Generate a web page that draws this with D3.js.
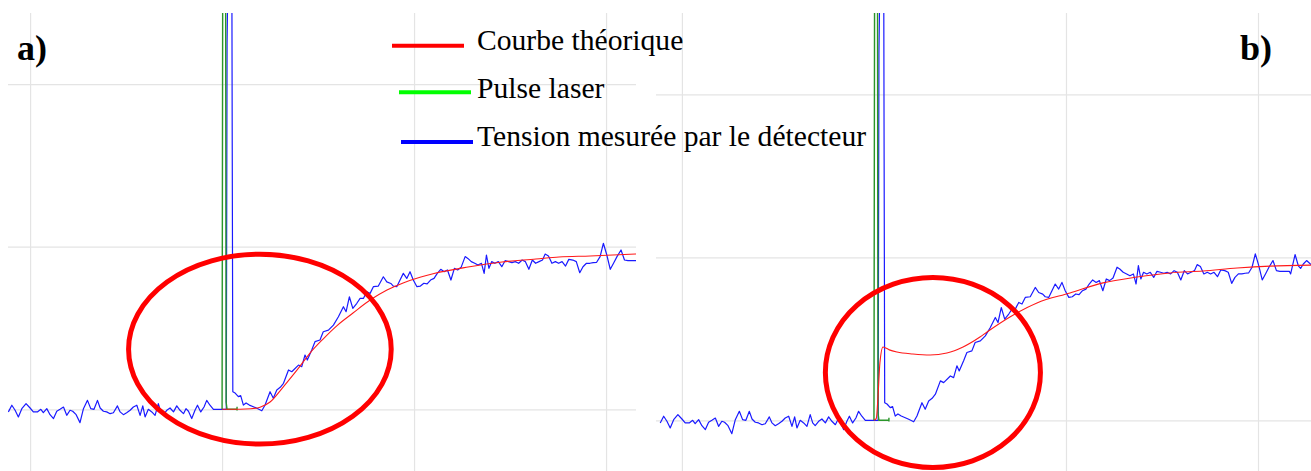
<!DOCTYPE html>
<html>
<head>
<meta charset="utf-8">
<script src="https://cdn.jsdelivr.net/npm/d3@7"></script>
<style>
  html, body { margin: 0; padding: 0; background: #ffffff; }
  svg { display: block; }
  .serif { font-family: "Liberation Serif", "Times New Roman", "DejaVu Serif", serif; }
</style>
</head>
<body>
<svg id="chart" width="1311" height="471"></svg>
<script>
// Time is in grid divisions (laser fired at t = 0), signal in grid divisions.
const timeTicks = [-1, 0, 1, 2];
const signalTicks = [0, 1, 2];

// Voltage measured by the detector: [time, signal]
const detectorSignal = [
  [-1.113,-0.016],[-1.095,0.025],[-1.078,-0.006],[-1.061,-0.047],[-1.043,0.004],[-1.021,0.035],
  [-1.000,0.008],[-0.983,-0.016],[-0.962,-0.016],[-0.944,0],[-0.931,-0.021],[-0.913,0.004],
  [-0.896,-0.033],[-0.878,-0.057],[-0.861,-0.012],[-0.844,0],[-0.826,0.014],[-0.809,-0.037],
  [-0.792,-0.006],[-0.778,-0.012],[-0.760,-0.033],[-0.740,-0.082],[-0.722,0.004],[-0.701,0.055],
  [-0.684,0.004],[-0.667,0],[-0.649,0.055],[-0.635,0.008],[-0.618,-0.012],[-0.601,-0.016],
  [-0.583,-0.027],[-0.566,-0.021],[-0.545,0.021],[-0.531,-0.016],[-0.514,-0.033],[-0.497,-0.021],
  [-0.479,-0.006],[-0.462,0.014],[-0.444,0.025],[-0.427,-0.037],[-0.413,0.021],[-0.401,-0.047],
  [-0.384,0],[-0.366,-0.016],[-0.349,-0.037],[-0.332,0.035],[-0.319,-0.016],[-0.306,-0.033],
  [-0.288,-0.006],[-0.271,0.008],[-0.253,-0.016],[-0.236,0.021],[-0.219,-0.006],[-0.201,-0.027],
  [-0.188,0.004],[-0.175,-0.012],[-0.158,-0.057],[-0.141,-0.006],[-0.128,0.025],[-0.111,-0.016],
  [-0.094,0.014],[-0.080,0.055],[-0.063,0.025],[-0.045,0],[0.022,0],
  [0.026,2.25],[0.036,3.2],[0.050,3.2],[0.053,1.6],[0.056,0.108],
  [0.068,0.100],[0.085,0.078],[0.097,0.084],[0.111,0.026],[0.125,0.039],[0.142,0.026],
  [0.163,0.016],[0.181,0.006],[0.207,-0.009],[0.224,0.026],[0.250,0.108],[0.267,0.068],
  [0.285,0.119],[0.303,0.135],[0.320,0.160],[0.346,0.242],[0.363,0.231],[0.398,0.272],[0.415,0.262],
  [0.432,0.334],[0.444,0.303],[0.467,0.365],[0.484,0.416],[0.510,0.426],[0.527,0.477],
  [0.554,0.487],[0.580,0.518],[0.606,0.569],[0.632,0.631],[0.646,0.600],[0.663,0.692],
  [0.681,0.621],[0.702,0.652],[0.719,0.682],[0.736,0.682],[0.754,0.723],[0.771,0.713],
  [0.788,0.754],[0.814,0.758],[0.840,0.815],[0.858,0.784],[0.879,0.774],[0.892,0.758],
  [0.910,0.754],[0.927,0.795],[0.944,0.836],[0.962,0.805],[0.979,0.846],[0.996,0.795],
  [1.015,0.754],[1.033,0.758],[1.051,0.775],[1.068,0.771],[1.086,0.795],[1.104,0.805],
  [1.121,0.836],[1.139,0.861],[1.157,0.846],[1.174,0.857],[1.192,0.795],[1.210,0.867],
  [1.227,0.857],[1.245,0.873],[1.266,0.939],[1.280,0.928],[1.298,0.908],[1.316,0.898],
  [1.333,0.887],[1.351,0.898],[1.365,0.836],[1.377,0.949],[1.390,0.867],[1.404,0.908],
  [1.421,0.898],[1.439,0.908],[1.457,0.877],[1.474,0.914],[1.492,0.908],[1.510,0.902],
  [1.527,0.908],[1.545,0.898],[1.563,0.918],[1.580,0.908],[1.598,0.861],[1.616,0.918],
  [1.633,0.898],[1.651,0.908],[1.669,0.918],[1.683,0.955],[1.700,0.943],[1.718,0.898],
  [1.736,0.908],[1.753,0.898],[1.771,0.908],[1.789,0.881],[1.806,0.922],[1.827,0.918],
  [1.845,0.908],[1.863,0.840],[1.880,0.877],[1.898,0.898],[1.916,0.898],[1.933,0.902],
  [1.951,0.904],[1.969,0.939],[1.986,1.021],[2.004,0.949],[2.022,0.861],[2.039,0.898],
  [2.057,0.939],[2.078,0.980],[2.096,0.918],[2.114,0.914],[2.145,0.914],[2.163,0.914],
  [2.170,0.898],[2.193,1.017],[2.210,0.948],[2.222,0.932],[2.236,0.959],[2.253,0.980],[2.276,0.955]
];

// Laser pulse: [time, signal]
const laserPulse = [
  [0,0],[0.004,3.2],[0.018,3.2],[0.021,0.045],[0.026,0],[0.078,0],[0.078,0.015],[0.078,-0.008]
];

// Theoretical response, case a): [time, signal]
const theoryA = [
  [0,0],[0.094,0],[0.150,0.003],[0.198,0.013],[0.250,0.045],[0.318,0.137],[0.391,0.242],
  [0.458,0.346],[0.526,0.432],[0.599,0.515],[0.682,0.592],[0.771,0.672],[0.859,0.734],
  [0.943,0.777],[1.031,0.812],[1.104,0.835],[1.281,0.875],[1.458,0.906],[1.635,0.924],
  [1.755,0.937],[1.917,0.943],[2.156,0.955]
];

// Theoretical response, case b): [time, signal]
const theoryB = [
  [0,0],[0.012,0.01],[0.021,0.143],[0.031,0.352],[0.047,0.45],[0.080,0.432],[0.120,0.419],
  [0.203,0.407],[0.292,0.401],[0.380,0.413],[0.464,0.45],[0.552,0.511],[0.589,0.542],
  [0.708,0.634],[0.849,0.72],[1.021,0.781],[1.193,0.843],[1.370,0.879],[1.542,0.904],
  [1.714,0.916],[1.891,0.934],[2.063,0.946],[2.276,0.952]
];

// Highlighted zones (centre and half-axes in data units)
const zoneA = [0.197, 0.370, 0.684, 0.584];
const zoneB = [0.307, 0.293, 0.560, 0.583];

const panelLabels = ["a)", "b)"];
const legendLabels = ["Courbe théorique", "Pulse laser", "Tension mesurée par le détecteur"];
const legendColors = ["#ff0000", "#00ff00", "#0000ff"];

const svg = d3.select("#chart");
const H = 471, TOP = 13;

const panels = [
  { label: panelLabels[0], left: 8, right: 636, domain: [-1.115, 2.156], y0: 409.3, y2: 84.1,
    theory: theoryA, zone: zoneA, labelX: 17 },
  { label: panelLabels[1], left: 656, right: 1311, domain: [-1.135, 2.276], y0: 420.3, y2: 94.3,
    theory: theoryB, zone: zoneB, labelX: 1240 }
];

panels.forEach((p, i) => {
  const x = d3.scaleLinear().domain(p.domain).range([p.left, p.right]);
  const y = d3.scaleLinear().domain([0, 2]).range([p.y0, p.y2]);
  const g = svg.append("g");

  const clipId = "clip" + i;
  svg.append("clipPath").attr("id", clipId)
    .append("rect").attr("x", p.left).attr("y", TOP)
    .attr("width", p.right - p.left).attr("height", H - TOP);

  // vertical grid
  const gx = g.append("g").attr("transform", `translate(0,${H})`)
    .call(d3.axisBottom(x).tickValues(timeTicks).tickSize(-(H - TOP)).tickFormat(""));
  // horizontal grid
  const gy = g.append("g").attr("transform", `translate(${p.left},0)`)
    .call(d3.axisLeft(y).tickValues(signalTicks).tickSize(-(p.right - p.left)).tickFormat(""));
  [gx, gy].forEach(a => {
    a.select(".domain").remove();
    a.selectAll(".tick line").attr("stroke", "#e4e4e4").attr("stroke-width", 1.2);
  });

  const line = d3.line().x(d => x(d[0])).y(d => y(d[1]));
  const plot = g.append("g").attr("clip-path", `url(#${clipId})`);

  plot.append("path").datum(detectorSignal)
    .attr("d", line).attr("fill", "none")
    .attr("stroke", "#1a1aff").attr("stroke-width", 1.2).attr("stroke-linejoin", "round");

  plot.append("path").datum(laserPulse)
    .attr("d", line).attr("fill", "none")
    .attr("stroke", "#2a962a").attr("stroke-width", 1.4);

  plot.append("path").datum(p.theory)
    .attr("d", line.curve(d3.curveMonotoneX)).attr("fill", "none")
    .attr("stroke", "#ff1a1a").attr("stroke-width", 1.1);

  // highlighted zone
  const [ct, cv, rt, rv] = p.zone;
  g.append("ellipse")
    .attr("cx", x(ct)).attr("cy", y(cv))
    .attr("rx", x(ct + rt) - x(ct)).attr("ry", y(cv) - y(cv + rv))
    .attr("fill", "none").attr("stroke", "#ff0000").attr("stroke-width", 5);

  g.append("text").attr("class", "serif").attr("x", p.labelX).attr("y", 60)
    .attr("font-weight", "bold").attr("font-size", 36).attr("fill", "#000")
    .text(p.label);
});

// legend
const legend = svg.append("g");
const swatch = [[392, 464, 45.7], [399, 471, 92.3], [401, 473, 142]];
legendLabels.forEach((lab, i) => {
  legend.append("line")
    .attr("x1", swatch[i][0]).attr("x2", swatch[i][1])
    .attr("y1", swatch[i][2]).attr("y2", swatch[i][2])
    .attr("stroke", legendColors[i]).attr("stroke-width", 4);
  legend.append("text").attr("class", "serif")
    .attr("x", 477).attr("y", 50 + i * 48)
    .attr("font-size", 29.6).attr("fill", "#000")
    .text(lab);
});
</script>
</body>
</html>
